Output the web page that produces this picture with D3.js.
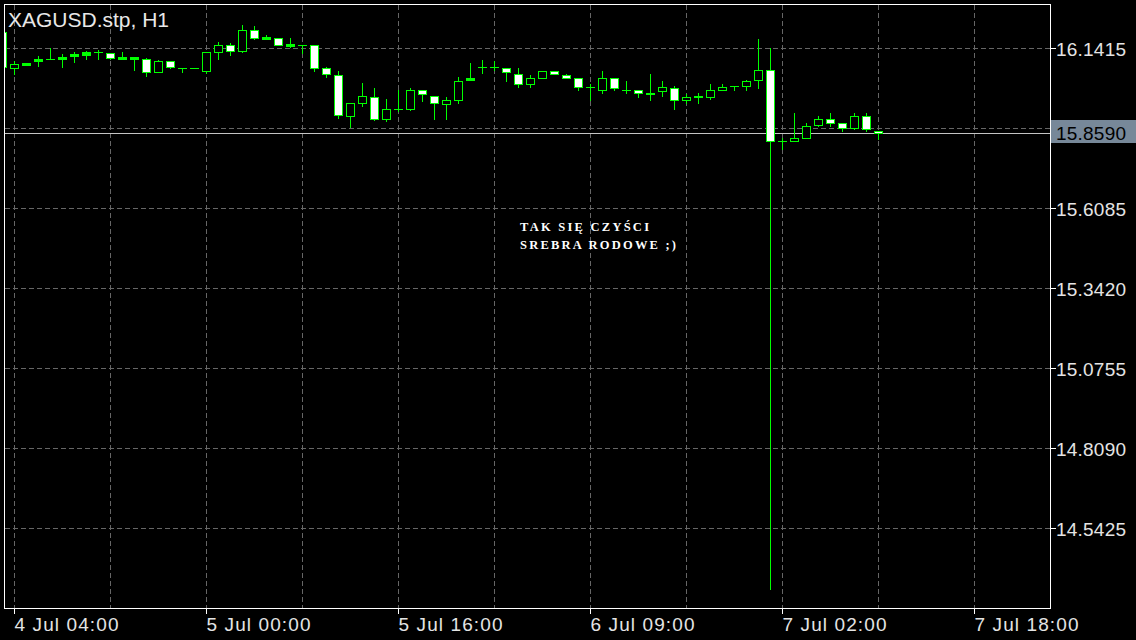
<!DOCTYPE html>
<html><head><meta charset="utf-8">
<script src="https://cdn.jsdelivr.net/npm/d3@7"></script>
<style>html,body{margin:0;padding:0;background:#000;overflow:hidden}</style>
</head><body><svg id="c" width="1136" height="640"></svg>
<script>
// ---- data (bar index starts at -1, one bar partly hidden at left edge) ----
const firstBarIndex = -1;
const opens  = [16.1968,16.0782,16.0869,16.0982,16.1069,16.1069,16.1159,16.1202,16.1282,16.1258,16.1069,16.1069,16.1049,16.0636,16.1015,16.0769,16.0782,16.0669,16.1282,16.1515,16.1348,16.2015,16.1735,16.1781,16.1502,16.1548,16.1548,16.0749,16.0516,15.9183,15.9583,15.9816,15.9083,15.9416,15.9403,16.0016,15.9849,15.9550,15.9683,16.0359,16.0792,16.0792,16.0782,16.0582,16.0216,16.0436,16.0649,16.0516,16.0416,16.0116,16.0049,16.0416,16.0049,16.0049,15.9883,15.9983,16.0083,15.9716,15.9783,15.9783,16.0049,16.0182,16.0182,16.0382,16.0715,15.8317,15.8350,15.8450,15.8850,15.9083,15.8917,15.8783,15.9150,15.8683];
const highs  = [16.2058,16.0992,16.0939,16.1159,16.1448,16.1248,16.1282,16.1335,16.1358,16.1262,16.1292,16.1139,16.1082,16.1022,16.1015,16.0769,16.0782,16.1282,16.1648,16.1582,16.2191,16.2158,16.1858,16.1781,16.1758,16.1548,16.1548,16.0802,16.0659,15.9583,16.0259,16.0093,15.9726,16.0016,16.0083,16.0016,15.9849,15.9816,16.0482,16.0925,16.1025,16.0982,16.0782,16.0782,16.0516,16.0682,16.0682,16.0582,16.0416,16.0249,16.0649,16.0416,16.0316,16.0049,16.0559,16.0316,16.0182,15.9883,15.9916,16.0226,16.0216,16.0182,16.0382,16.1715,16.1448,15.8450,15.9283,15.8917,15.9183,15.9250,15.8917,15.9283,15.9250,15.8683];
const lows   = [16.0759,16.0549,16.0869,16.0835,16.1069,16.0802,16.0969,16.1069,16.1069,16.1049,16.1069,16.0715,16.0502,16.0630,16.0769,16.0636,16.0782,16.0602,16.1069,16.1182,16.1302,16.1715,16.1715,16.1515,16.1468,16.1268,16.0669,16.0469,15.9103,15.8793,15.9503,15.9037,15.9003,15.9336,15.9370,15.9669,15.9070,15.9070,15.9583,16.0359,16.0602,16.0692,16.0336,16.0116,16.0116,16.0416,16.0549,16.0416,16.0049,15.9716,15.9949,16.0049,15.9916,15.9783,15.9716,15.9849,15.9383,15.9583,15.9603,15.9749,16.0016,16.0016,16.0016,16.0083,14.3393,15.8051,15.8350,15.8417,15.8837,15.8837,15.8670,15.8750,15.8670,15.8384];
const closes = [16.0802,16.0892,16.0939,16.1059,16.1069,16.1139,16.1225,16.1282,16.1282,16.1115,16.1139,16.1139,16.0636,16.1015,16.0802,16.0769,16.0782,16.1282,16.1515,16.1348,16.2015,16.1781,16.1801,16.1515,16.1558,16.1548,16.0782,16.0549,15.9203,15.9583,15.9849,15.9070,15.9416,15.9416,16.0016,15.9883,15.9616,15.9683,16.0349,16.0426,16.0792,16.0792,16.0616,16.0216,16.0416,16.0649,16.0549,16.0416,16.0149,16.0116,16.0416,16.0083,16.0049,15.9916,15.9949,16.0116,15.9716,15.9816,15.9849,16.0016,16.0149,16.0182,16.0316,16.0715,15.8317,15.8317,15.8450,15.8817,15.9083,15.8917,15.8783,15.9150,15.8717,15.8590];

const priceTicks = [16.1415,15.8750,15.6085,15.3420,15.0755,14.8090,14.5425];
const timeTickIndex  = [0,16,32,48,64,80];
const timeTickLabels = ["4 Jul 04:00","5 Jul 00:00","5 Jul 16:00","6 Jul 09:00","7 Jul 02:00","7 Jul 18:00"];
const gridIndex = [0,8,16,24,32,40,48,56,64,72,80];
const currentPrice = 15.8590;
const titleText = "XAGUSD.stp, H1";
const noteLines = ["TAK SIĘ CZYŚCI","SREBRA RODOWE ;)"];

// ---- layout ----
const L = 4.5, T = 4.5, R = 1050.5, B = 608.5;
const GREEN = "#00ff00";

const svg = d3.select("#c");
svg.append("rect").attr("width",1136).attr("height",640).attr("fill","#000");

const x = d3.scaleLinear().domain([0,80]).range([14.5, 974.5]);
const y = d3.scaleLinear().domain([14.5425,16.1415]).range([528.5,48.5]);

const bars = opens.map((o,i)=>({i:i+firstBarIndex,o,h:highs[i],l:lows[i],c:closes[i]}));

svg.append("clipPath").attr("id","plot").append("rect")
  .attr("x",L+0.5).attr("y",T+0.5).attr("width",R-L-1).attr("height",B-T-1);

// grid
const grid = svg.append("g").attr("stroke","#666").attr("stroke-width",1)
  .attr("stroke-dasharray","5,3").attr("shape-rendering","crispEdges");
grid.selectAll(".gv").data(gridIndex).join("line")
  .attr("x1",d=>x(d)).attr("x2",d=>x(d)).attr("y1",T).attr("y2",B);
grid.selectAll(".gh").data(priceTicks).join("line")
  .attr("x1",L).attr("x2",R).attr("y1",d=>y(d)).attr("y2",d=>y(d));

// current price line
svg.append("line").attr("x1",L).attr("x2",R)
  .attr("y1",Math.round(y(currentPrice))+0.5).attr("y2",Math.round(y(currentPrice))+0.5)
  .attr("stroke","#c4c4c4").attr("shape-rendering","crispEdges");

// candles
const cg = svg.append("g").attr("clip-path","url(#plot)").attr("shape-rendering","crispEdges");
const rnd = v => Math.round(v)+0.5;
const g = cg.selectAll("g.bar").data(bars).join("g");
g.append("line")
  .attr("x1",d=>x(d.i)).attr("x2",d=>x(d.i))
  .attr("y1",d=>Math.round(y(d.h))).attr("y2",d=>Math.round(y(d.l))+1)
  .attr("stroke",GREEN);
g.each(function(d){
  const sel = d3.select(this);
  const yt = y(Math.max(d.o,d.c)), yb = y(Math.min(d.o,d.c));
  const hgt = yb-yt;
  const cx = x(d.i);
  if (hgt < 0.5) {
    sel.append("line").attr("x1",cx-4.5).attr("x2",cx+4.5)
      .attr("y1",rnd(yt)).attr("y2",rnd(yt)).attr("stroke",GREEN);
  } else {
    const bull = d.c > d.o;
    const ry = rnd(yt), rh = Math.max(1, Math.round(yb)-Math.round(yt));
    sel.append("rect").attr("x",cx-4).attr("width",8)
      .attr("y",ry).attr("height",rh)
      .attr("fill", hgt < 2.5 ? GREEN : (bull ? "#000" : "#fff"))
      .attr("stroke",GREEN);
  }
});

// frame
svg.append("rect").attr("x",L).attr("y",T).attr("width",R-L).attr("height",B-T)
  .attr("fill","none").attr("stroke","#fff").attr("shape-rendering","crispEdges");

// price axis
const yc = y(currentPrice);
const pa = svg.append("g");
pa.selectAll("line").data(priceTicks).join("line")
  .attr("x1",R).attr("x2",R+5).attr("y1",d=>y(d)).attr("y2",d=>y(d))
  .attr("stroke","#fff").attr("shape-rendering","crispEdges");
pa.selectAll("text").data(priceTicks.filter(d=>Math.abs(y(d)-yc)>16)).join("text")
  .attr("x",1056).attr("y",d=>y(d)+7)
  .attr("textLength",70).attr("lengthAdjust","spacing")
  .attr("fill","#e4e4e4").attr("font-family","'Liberation Sans', Arial, sans-serif")
  .attr("font-size",19).text(d=>d.toFixed(4));

// current price box
svg.append("rect").attr("x",1051).attr("y",Math.round(yc)-13).attr("width",85).attr("height",23)
  .attr("fill","#778899");
svg.append("text").attr("x",1056).attr("y",Math.round(yc)+7)
  .attr("textLength",70).attr("lengthAdjust","spacing")
  .attr("fill","#000").attr("font-family","'Liberation Sans', Arial, sans-serif")
  .attr("font-size",19).text(currentPrice.toFixed(4));

// time axis
const ta = svg.append("g");
ta.selectAll("line").data(timeTickIndex).join("line")
  .attr("x1",d=>x(d)).attr("x2",d=>x(d)).attr("y1",B).attr("y2",B+5)
  .attr("stroke","#fff").attr("shape-rendering","crispEdges");
ta.selectAll("text").data(timeTickIndex).join("text")
  .attr("x",d=>x(d)).attr("y",631)
  .attr("textLength",104).attr("lengthAdjust","spacing")
  .attr("fill","#e4e4e4").attr("font-family","'Liberation Sans', Arial, sans-serif")
  .attr("font-size",19).text((d,k)=>timeTickLabels[k]);

// title
svg.append("text").attr("x",8).attr("y",27)
  .attr("fill","#e8e8e8").attr("font-family","'Liberation Sans', Arial, sans-serif")
  .attr("font-size",21).text(titleText);

// note
const note = svg.append("g").attr("fill","#fff")
  .attr("font-family","'Liberation Serif','Times New Roman',serif")
  .attr("font-weight","bold").attr("font-size",12.5);
note.selectAll("text").data(noteLines).join("text")
  .attr("x",x(42.125)).attr("y",(d,k)=>231+k*18)
  .attr("textLength",(d,k)=>k===0?129:156).attr("lengthAdjust","spacing")
  .text(d=>d);
</script></body></html>
